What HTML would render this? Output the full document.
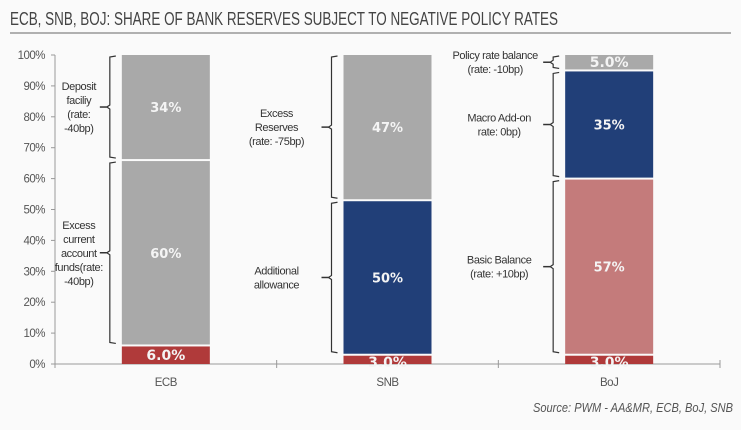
<!DOCTYPE html>
<html><head><meta charset="utf-8"><style>
html,body{margin:0;padding:0;background:#fafafa;}
svg{display:block;font-family:"Liberation Sans Narrow","Liberation Sans",sans-serif;}
</style></head><body>
<svg id="c" width="741" height="430" viewBox="0 0 741 430">
<text x="10" y="25" font-size="18" fill="#444" textLength="548" lengthAdjust="spacingAndGlyphs">ECB, SNB, BOJ: SHARE OF BANK RESERVES SUBJECT TO NEGATIVE POLICY RATES</text>
<line x1="10" y1="33" x2="731" y2="33" stroke="#666" stroke-width="1"/>
<g id="axes"></g><g id="bars"></g><g id="ann"></g>
<text x="733" y="412" font-size="13" font-style="italic" fill="#555" text-anchor="end" textLength="200" lengthAdjust="spacingAndGlyphs">Source: PWM - AA&amp;MR, ECB, BoJ, SNB</text>
</svg>
<script>
const categories=["ECB","SNB","BoJ"];
const seg0=[6,3,3];   // red bottom
const seg1=[60,50,57];
const seg2=[34,47,35];
const seg3=[0,0,5];
const labels0=["6.0%","3.0%","3.0%"];
const labels1=["60%","50%","57%"];
const labels2=["34%","47%","35%"];
const labels3=["","","5.0%"];
const colors1=["#a9a9a9","#213f78","#c47b7b"];
const colors2=["#a9a9a9","#a9a9a9","#213f78"];
const yTicks=[0,10,20,30,40,50,60,70,80,90,100];
const notes=[
 [["Excess","current","account","funds(rate:","-40bp)"],["Deposit","faciliy","(rate:","-40bp)"],null],
 [["Additional","allowance"],["Excess","Reserves","(rate: -75bp)"],null],
 [["Basic Balance","(rate: +10bp)"],["Macro Add-on","rate: 0bp)"],["Policy rate balance","(rate: -10bp)"]]
];
const NS="http://www.w3.org/2000/svg";
const y=v=>364-v*3.09;
const x0=55,x1=720,bw=88;
const xc=i=>x0+(x1-x0)*(i+0.5)/categories.length;
function mk(tag,attrs,parent){const e=document.createElementNS(NS,tag);for(const k in attrs)e.setAttribute(k,attrs[k]);parent.appendChild(e);return e;}
const ax=document.getElementById('axes'),bars=document.getElementById('bars'),ann=document.getElementById('ann');
let yl=mk('line',{x1:x0,y1:y(0),x2:x0,y2:y(100),stroke:'#999'},ax);


let xl=mk('line',{x1:x0,y1:y(0),x2:x1,y2:y(0),stroke:'#999'},ax);


yTicks.forEach(t=>{
 mk('line',{x1:x0-4,x2:x0,y1:y(t),y2:y(t),stroke:'#999'},ax);
 const tx=mk('text',{x:x0-10,y:y(t)+4,'font-size':11.5,fill:'#555','text-anchor':'end','letter-spacing':-0.5},ax);tx.textContent=t+'%';
 
 
});
for(let i=0;i<=categories.length;i++){mk('line',{x1:x0+(x1-x0)*i/categories.length,x2:x0+(x1-x0)*i/categories.length,y1:y(0)-4,y2:y(0)+4,stroke:'#999'},ax);}
categories.forEach((c,i)=>{
 const tx=mk('text',{x:xc(i),y:y(0)+22,'font-size':11.5,fill:'#555','text-anchor':'middle','letter-spacing':-0.5},ax);tx.textContent=c;
 
 
 const segs=[[seg0[i],'#b03a3a',labels0[i]],[seg1[i],colors1[i],labels1[i]],[seg2[i],colors2[i],labels2[i]],[seg3[i],'#a9a9a9',labels3[i]]];
 let base=0;
 segs.forEach((s,k)=>{
  if(!s[0])return;
  const top=base+s[0];
  const yt=y(top)+(top<100?1:0), yb=y(base)-(base>0?1:0);
  const r=mk('rect',{x:xc(i)-bw/2,y:yt,width:bw,height:Math.max(0,yb-yt),fill:s[1]},bars);
  
  
  const t=mk('text',{x:xc(i),y:(yt+yb)/2+5,'font-size':k==0||k==3?14:13,'font-weight':'bold',fill:'#f4f4f4','text-anchor':'middle','font-family':'"DejaVu Sans",sans-serif'},bars);
  if(s[0]<4)t.setAttribute('y',yb+3);
  t.textContent=s[2];
  
  
  if(k>0&&notes[i][k-1]){
   const bx=xc(i)-bw/2-12, ya=yt+1, yb2=yb-1, m=(ya+yb2)/2;
   const p=mk('path',{d:`M${bx+6},${ya} L${bx},${ya+1} L${bx},${m-2} L${bx-3},${m} L${bx},${m+2} L${bx},${yb2-1} L${bx+6},${yb2}`,fill:'none',stroke:'#333','stroke-width':1.2},ann);
   
   
   mk('line',{x1:bx-10,x2:bx-3,y1:m,y2:m,stroke:'#333','stroke-width':1.5},ann);
   const lines=notes[i][k-1],lh=14;
   const g=mk('text',{'font-size':11,fill:'#333','text-anchor':'middle','letter-spacing':-0.4},ann);
   
   
   const cx=bx-(i==2?(k==3?58:54):(i==0?31:55));
   lines.forEach((l,j)=>{const ts=mk('tspan',{x:cx,y:m-(lines.length-1)*lh/2+j*lh+4},g);ts.textContent=l;});
  }
  base=top;
 });
});
</script>
</body></html>
